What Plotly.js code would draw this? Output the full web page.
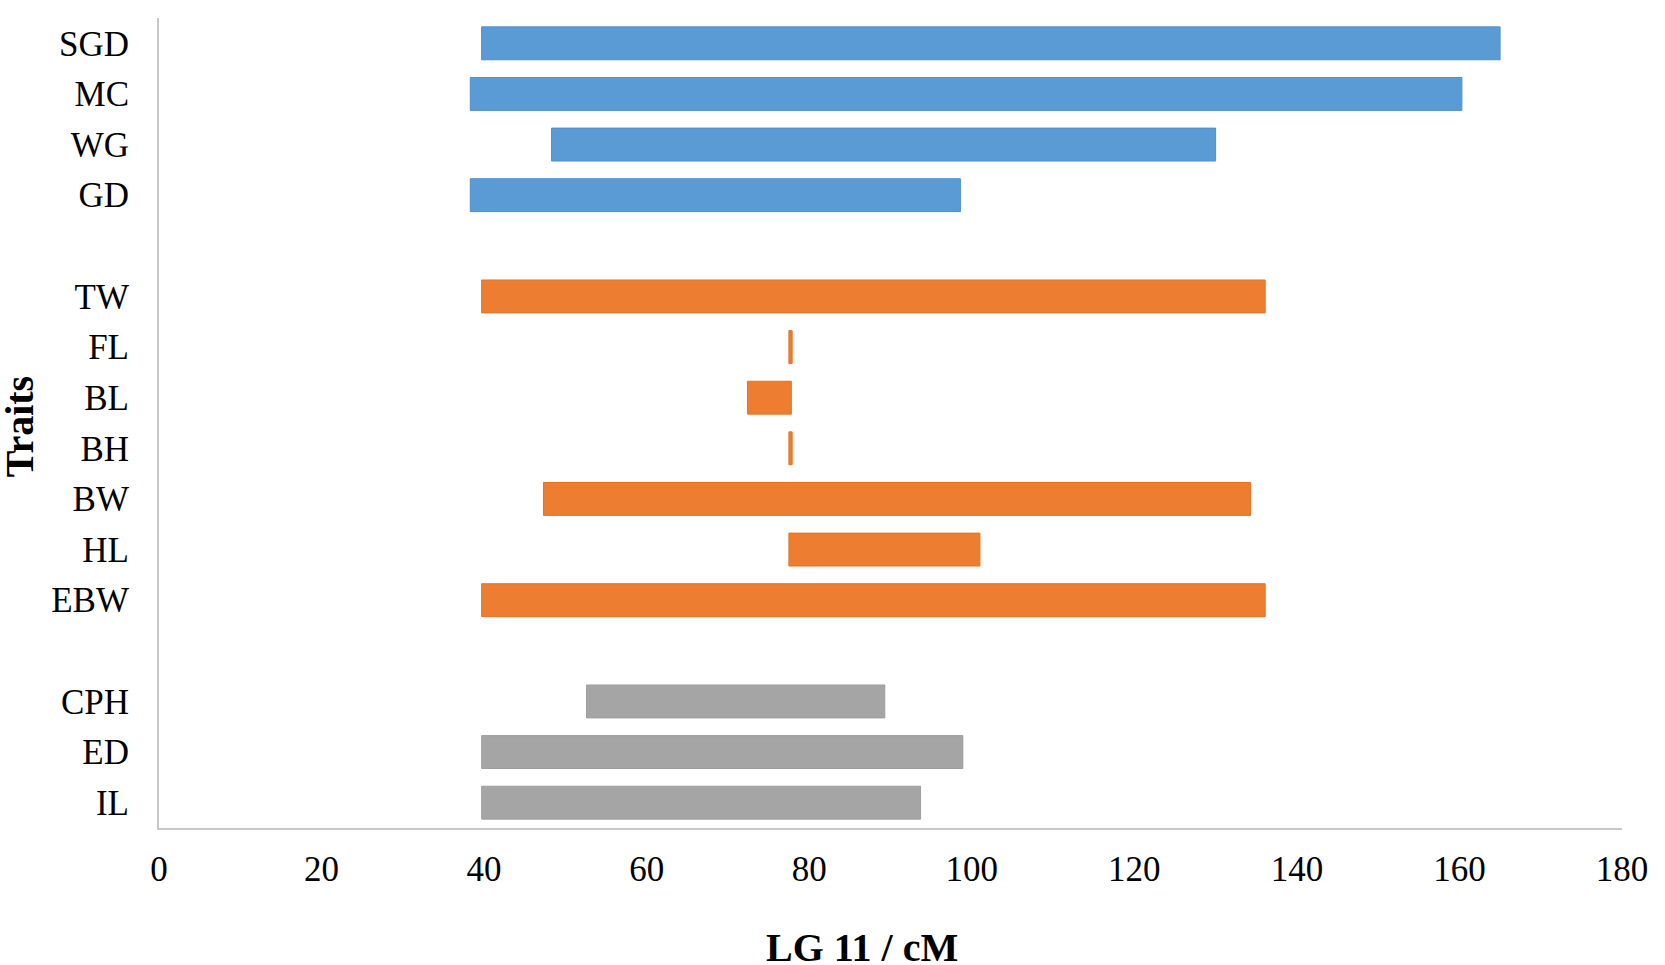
<!DOCTYPE html>
<html>
<head>
<meta charset="utf-8">
<script src="https://cdn.plot.ly/plotly-3.0.1.min.js"></script>
<style>
html,body{margin:0;padding:0;background:#fff;}
#chart{width:1665px;height:965px;}
</style>
</head>
<body>
<div id="chart"></div>
<script>
// Row order, top to bottom (gap rows separate the trait groups)
var categories = ["SGD","MC","WG","GD","gap1","TW","FL","BL","BH","BW","HL","EBW","gap2","CPH","ED","IL"];
var tickLabels = ["SGD","MC","WG","GD","","TW","FL","BL","BH","BW","HL","EBW","","CPH","ED","IL"];

// Group 1 (blue)
var blueTraits = ["SGD","MC","WG","GD"];
var blueStart  = [39.7, 38.3, 48.3, 38.3];
var blueEnd    = [165.0, 160.3, 130.0, 98.6];

// Group 2 (orange)
var orangeTraits = ["TW","FL","BL","BH","BW","HL","EBW"];
var orangeStart  = [39.7, 77.5, 72.4, 77.5, 47.3, 77.5, 39.7];
var orangeEnd    = [136.1, 77.9, 77.8, 77.9, 134.3, 101.0, 136.1];

// Group 3 (gray)
var grayTraits = ["CPH","ED","IL"];
var grayStart  = [52.6, 39.7, 39.7];
var grayEnd    = [89.3, 98.9, 93.7];

var xTicks = [0,20,40,60,80,100,120,140,160,180];

function lengths(s, e){ return e.map(function(v,i){ return +(v - s[i]).toFixed(3); }); }

function mk(traits, s, e, color, edge){
  return {
    type: 'bar', orientation: 'h',
    y: traits, x: lengths(s, e), base: s,
    width: 0.65,
    marker: {color: color, line: {color: edge, width: 1}},
    hoverinfo: 'y+x', showlegend: false
  };
}

var data = [
  mk(blueTraits, blueStart, blueEnd, '#5B9BD5', '#4F8FCB'),
  mk(orangeTraits, orangeStart, orangeEnd, '#ED7D31', '#E57325'),
  mk(grayTraits, grayStart, grayEnd, '#A5A5A5', '#9E9E9E')
];

var font = "'Liberation Serif','Times New Roman',serif";

var layout = {
  width: 1665, height: 965,
  margin: {l: 159, r: 43, t: 18, b: 137, pad: 0},
  paper_bgcolor: '#fff', plot_bgcolor: '#fff',
  barmode: 'overlay',
  font: {family: font, color: '#000'},
  xaxis: {
    range: [0, 180], tickvals: xTicks, ticktext: xTicks.map(String),
    showgrid: false, zeroline: false,
    showline: true, linecolor: '#C8C8C8', linewidth: 2,
    ticks: '', ticklabelstandoff: 9,
    tickfont: {family: font, size: 35, color: '#000'},
    fixedrange: true
  },
  yaxis: {
    type: 'category', categoryorder: 'array', categoryarray: categories,
    range: [15.5, -0.5],
    tickmode: 'array', tickvals: categories, ticktext: tickLabels,
    showgrid: false, zeroline: false,
    showline: true, linecolor: '#C8C8C8', linewidth: 2,
    ticks: '', ticklabelstandoff: 21,
    tickfont: {family: font, size: 35, color: '#000'},
    fixedrange: true
  },
  annotations: [
    {text: '<b>Traits</b>', textangle: -90, xref: 'paper', yref: 'paper',
     x: -0.0955, y: 0.495, xanchor: 'center', yanchor: 'middle', showarrow: false,
     font: {family: font, size: 40, color: '#000'}},
    {text: '<b>LG 11 / cM</b>', xref: 'paper', yref: 'paper',
     x: 0.4805, y: -0.1475, xanchor: 'center', yanchor: 'middle', showarrow: false,
     font: {family: font, size: 40, color: '#000'}}
  ]
};

Plotly.newPlot('chart', data, layout, {displayModeBar: false, staticPlot: true});
</script>
</body>
</html>
